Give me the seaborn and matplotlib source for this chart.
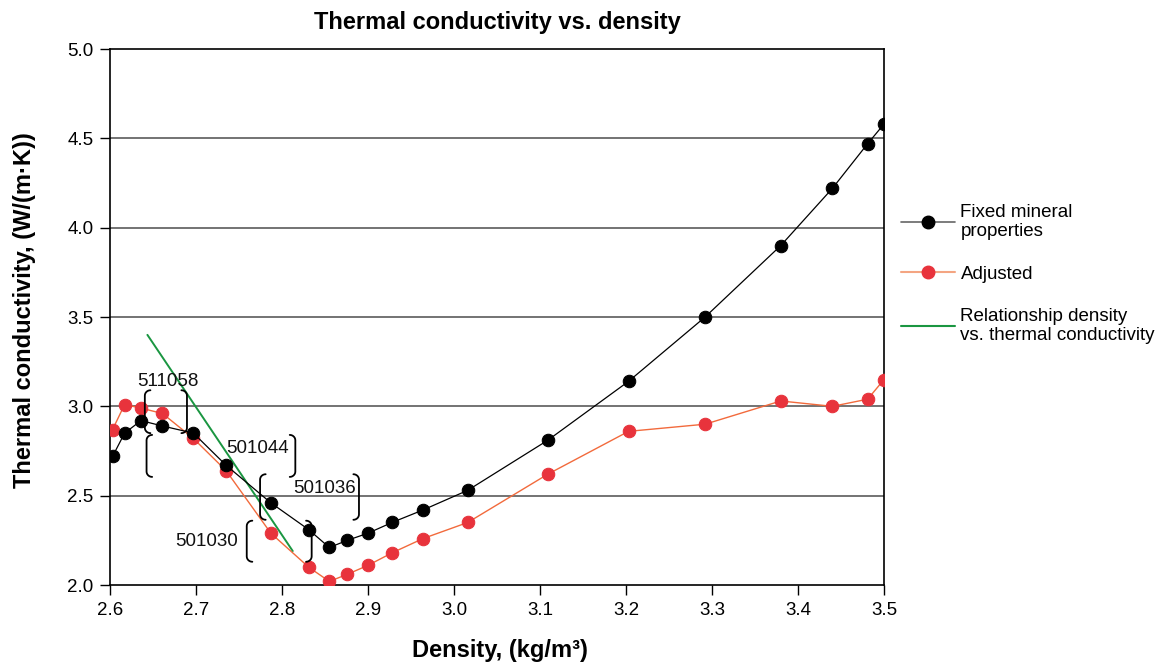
import matplotlib
matplotlib.use("Agg")
import matplotlib.pyplot as plt
import seaborn as sns
import pandas as pd
import numpy as np
from matplotlib.lines import Line2D

# ---- data ----
density = [2.603, 2.617, 2.636, 2.661, 2.697, 2.735, 2.787, 2.831, 2.855, 2.876,
           2.900, 2.928, 2.964, 3.016, 3.109, 3.203, 3.292, 3.380, 3.440, 3.481, 3.500]
fixed_mineral = [2.72, 2.85, 2.92, 2.89, 2.85, 2.67, 2.46, 2.31, 2.21, 2.25,
                 2.29, 2.35, 2.42, 2.53, 2.81, 3.14, 3.50, 3.90, 4.22, 4.47, 4.58]
adjusted = [2.87, 3.01, 2.99, 2.96, 2.82, 2.64, 2.29, 2.10, 2.02, 2.06,
            2.11, 2.18, 2.26, 2.35, 2.62, 2.86, 2.90, 3.03, 3.00, 3.04, 3.15]
relation_x = [2.6435, 2.8125]
relation_y = [3.40, 2.19]

# bracket annotations: label, label x, label y, left x, right x, top y, bottom y
br_labels = ["511058", "501044", "501036", "501030"]
br_label_x = [2.667, 2.771, 2.850, 2.712]
br_label_y = [3.14, 2.765, 2.542, 2.246]
br_left = [2.6405, 2.6425, 2.7745, 2.7590]
br_right = [2.6895, 2.8155, 2.8895, 2.8345]
br_top = [3.09, 2.84, 2.62, 2.36]
br_bot = [2.85, 2.605, 2.365, 2.13]

xticks = [2.6, 2.7, 2.8, 2.9, 3.0, 3.1, 3.2, 3.3, 3.4, 3.5]
yticks = [2.0, 2.5, 3.0, 3.5, 4.0, 4.5, 5.0]

sns.set_theme(style="white")
plt.rcParams['font.family'] = ['Liberation Sans', 'DejaVu Sans']
plt.rcParams['text.color'] = 'black'
plt.rcParams['axes.labelcolor'] = 'black'
plt.rcParams['xtick.color'] = 'black'
plt.rcParams['ytick.color'] = 'black'

fig = plt.figure(figsize=(11.56, 6.63), dpi=100)
ax = fig.add_axes([110/1156, 1-585/663, (884-110)/1156, (585-49)/663])

df_fixed = pd.DataFrame({"Density": density, "TC": fixed_mineral})
df_adj = pd.DataFrame({"Density": density, "TC": adjusted})
df_rel = pd.DataFrame({"Density": relation_x, "TC": relation_y})

for yv in yticks[1:-1]:
    ax.axhline(yv, color="#4d4d4d", lw=1.1, zorder=0)

sns.lineplot(data=df_rel, x="Density", y="TC", ax=ax, color="#1a9641", lw=1.4,
             sort=False, zorder=2)
sns.lineplot(data=df_adj, x="Density", y="TC", ax=ax, color="#f26a3c", lw=1.0,
             marker="o", markersize=9, markerfacecolor="#e8333c",
             markeredgecolor="#e8333c", sort=False, zorder=3)
sns.lineplot(data=df_fixed, x="Density", y="TC", ax=ax, color="black", lw=0.9,
             marker="o", markersize=9, markerfacecolor="black",
             markeredgecolor="black", sort=False, zorder=4)

# rounded brackets (parenthesis-like)
dx = 0.0065
dy = 0.03
th = np.linspace(0, np.pi / 2, 8)


def bracket(xe, t, b, sign):
    # sign=+1 opens to the right (left bracket), -1 opens left (right bracket)
    top_x = xe + sign * dx * (1 - np.cos(th))
    top_y = t - dy * (1 - np.sin(th))
    # arc from (xe+sign*dx, t) to (xe, t-dy)
    top_x = xe + sign * dx * (1 - np.sin(th))
    top_y = (t - dy) + dy * np.cos(th)[::-1] * 0 + dy * np.sin(th[::-1]) * 0
    xs_top = xe + sign * dx * (1 - np.sin(th))
    ys_top = (t - dy) + dy * np.cos(th)
    xs_bot = xe + sign * dx * (1 - np.cos(th))
    ys_bot = (b + dy) - dy * np.sin(th)
    xs = np.concatenate([xs_top[::-1][::-1], xs_bot])
    ys = np.concatenate([ys_top, ys_bot])
    order_top = np.argsort(-ys_top)
    xs = np.concatenate([xs_top[order_top], xs_bot])
    ys = np.concatenate([ys_top[order_top], ys_bot])
    ax.plot(xs, ys, color="black", lw=1.3, zorder=5, solid_capstyle="round")


for lab, lx, ly, l, r, t, b in zip(br_labels, br_label_x, br_label_y,
                                   br_left, br_right, br_top, br_bot):
    bracket(l, t, b, +1)
    bracket(r, t, b, -1)
    ax.text(lx, ly, lab, ha="center", va="center", fontsize=13.5, color="#111111",
            zorder=6)

ax.set_xlim(2.6, 3.5)
ax.set_ylim(2.0, 5.0)
ax.set_xticks(xticks)
ax.set_yticks(yticks)
ax.set_xticklabels([f"{v:.1f}" for v in xticks])
ax.set_yticklabels([f"{v:.1f}" for v in yticks])
ax.tick_params(axis="both", which="major", direction="out", length=7, width=1,
               color="black", labelsize=13.5, bottom=True, left=True, pad=5)
for s in ax.spines.values():
    s.set_visible(True)
    s.set_color("black")
    s.set_linewidth(1.2)

fig.text(497/1156, 1-22/663, "Thermal conductivity vs. density", fontsize=17,
         fontweight="bold", ha="center", va="center")
ax.set_xlabel("Density, (kg/m\u00b3)", fontsize=17, fontweight="bold")
ax.xaxis.set_label_coords((500-110)/774, (585-650)/536)
ax.xaxis.label.set_va("center")
ax.set_ylabel("Thermal conductivity, (W/(m\u00b7K))", fontsize=17,
              fontweight="bold")
ax.yaxis.set_label_coords((25-110)/774, (585-310)/536)
ax.yaxis.label.set_va("center")

handles = [
    Line2D([0], [0], color="#666666", lw=1.2, marker="o", markersize=9,
           markerfacecolor="black", markeredgecolor="black"),
    Line2D([0], [0], color="#f4a582", lw=1.5, marker="o", markersize=9,
           markerfacecolor="#e8333c", markeredgecolor="#e8333c"),
    Line2D([0], [0], color="#1a9641", lw=1.5),
]
labels = ["Fixed mineral\nproperties", "Adjusted",
          "Relationship density\nvs. thermal conductivity"]
fig.legend(handles, labels, loc="upper left", bbox_to_anchor=(893/1156, 1-196/663),
           frameon=False, fontsize=13.5, handlelength=2.9, labelspacing=1.35,
           handletextpad=0.3, borderaxespad=0)

fig.savefig("out.png", dpi=100)
